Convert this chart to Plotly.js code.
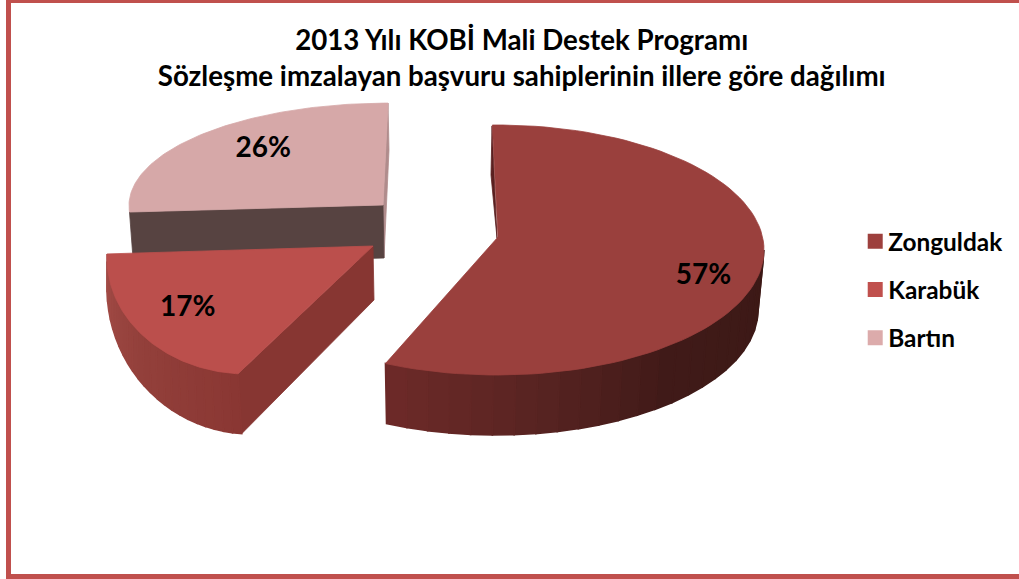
<!DOCTYPE html>
<html>
<head>
<meta charset="utf-8">
<script src="https://cdn.plot.ly/plotly-3.0.1.min.js"></script>
<style>html,body{margin:0;padding:0;background:#fff}#chart{width:1019px;height:579px}</style>
</head>
<body>
<div id="chart"></div>
<script>
var categories = ["Zonguldak", "Karabük", "Bartın"];
var shares = [57, 17, 26];
var faceColors = ["#9a403d", "#bb4f4c", "#d6a8a8"];
var legendColors = ["#9d403d", "#c0504d", "#dcabab"];
var titleLines = ["2013 Yılı KOBİ Mali Destek Programı", "Sözleşme imzalayan başvuru sahiplerinin illere göre dağılımı"];
var FONT = "Lato, Carlito, Calibri, sans-serif";

// Drawing geometry of the tilted, exploded pie (axis units = pixels of the page)
var geom = [
  {top:{cx:497,cy:250,a:267,b:125}, bot:{cx:496,cy:310,a:262,b:125}, apex:[498,237], apexBot:[497,238],
   phi0:-1, stretch:1.0024, wall:[[90,"#3c1916"],[140,"#401a18"],[170,"#572321"],[205,"#6e2a29"]],
   rear:{from:[492,126], to:[491,175], color:"#5a2020"}, label:{f:0.79,dy:7}},
  {top:{cx:247,cy:258,a:140,b:116}, bot:{cx:251,cy:288,a:144,b:146}, apex:[373,246], apexBot:[374,300],
   phi0:183.7, stretch:1.443, wall:[[183,"#8a3733"],[230,"#93403b"],[272,"#a34b47"]],
   side:"#873632", label:{f:0.57,dy:6.5}},
  {top:{cx:388,cy:205.6,a:259,b:102.5}, bot:{cx:389,cy:258,a:256,b:108}, apex:[383,205], apexBot:[384,258],
   phi0:266.4, stretch:1, wall:null, flat:"#574341", strip:"#b08c8c", label:{f:0.661,dy:-9}}
];

function pt(e, deg){ var r = deg*Math.PI/180; return [e.cx + e.a*Math.sin(r), e.cy - e.b*Math.cos(r)]; }
function hex2rgb(h){ return [1,3,5].map(function(i){return parseInt(h.substr(i,2),16);}); }
function shade(stops, deg){
  for (var i=0;i<stops.length-1;i++){
    if (deg<=stops[i+1][0] || i===stops.length-2){
      var t=Math.max(0,Math.min(1,(deg-stops[i][0])/(stops[i+1][0]-stops[i][0])));
      var a=hex2rgb(stops[i][1]), b=hex2rgb(stops[i+1][1]);
      return "rgb("+[0,1,2].map(function(k){return Math.round(a[k]+(b[k]-a[k])*t);}).join(",")+")";
    }
  }
}
function poly(points, color, extra, width){
  var tr = {type:"scatter", mode:"lines", x:points.map(function(p){return p[0];}).concat(points[0][0]),
    y:points.map(function(p){return p[1];}).concat(points[0][1]), fill:"toself", fillcolor:color,
    line:{color:color,width:width||0.8}, hoverinfo:"skip", showlegend:false};
  for (var k in extra) tr[k]=extra[k];
  return tr;
}

var total = shares.reduce(function(a,b){return a+b;},0);
var sliceTraces = {};
var labelX=[], labelY=[], labelText=[];
shares.forEach(function(v,i){
  var g = geom[i], span = v/total*360*g.stretch, start=g.phi0, end=g.phi0+span, tr=[];
  if (g.rear) tr.push(poly([g.rear.from,g.rear.to,g.apexBot], g.rear.color));
  if (g.flat){
    var e0=pt(g.top,start), e1=pt(g.bot,start);
    tr.push(poly([pt(g.top,end),pt(g.bot,end),g.apexBot,g.apex], g.strip));
    tr.push(poly([e0,g.apex,g.apexBot,e1], g.flat));
  }
  if (g.side){
    tr.push(poly([g.apex,g.apexBot,pt(g.bot,start),pt(g.top,start)], g.side));
  }
  if (g.wall){
    var lo=Math.max(start,g.wall[0][0]), hi=Math.min(end,g.wall[g.wall.length-1][0]), n=24, step=(hi-lo)/n;
    for (var j=0;j<n;j++){
      var a=lo+j*step, b=a+step, ring=[], s=3;
      for (var q=0;q<=s;q++) ring.push(pt(g.top,a+(b-a)*q/s));
      for (q=s;q>=0;q--) ring.push(pt(g.bot,a+(b-a)*q/s));
      tr.push(poly(ring, shade(g.wall,(a+b)/2), null, 1.6));
    }
  }
  var face=[g.apex];
  var m=90;
  for (var q2=0;q2<=m;q2++) face.push(pt(g.top,start+span*q2/m));
  tr.push(poly(face, faceColors[i], {name:categories[i]}));
  sliceTraces[i]=tr;
  var mid=pt(g.top,(start+end)/2);
  labelX.push(g.top.cx+(mid[0]-g.top.cx)*g.label.f);
  labelY.push(g.top.cy+(mid[1]-g.top.cy)*g.label.f+g.label.dy);
  labelText.push(v+"%");
});

var traces = [].concat(sliceTraces[2], sliceTraces[1], sliceTraces[0]);
traces.push({type:"scatter", mode:"text", x:labelX, y:labelY, text:labelText, textposition:"middle center",
  textfont:{family:FONT,size:28,color:"#000",weight:"bold"}, hoverinfo:"skip", showlegend:false, cliponaxis:false});
categories.forEach(function(c,i){
  traces.push({type:"scatter", mode:"markers", x:[null], y:[null], name:c, legendgroup:c,
    marker:{symbol:"square",size:15,color:legendColors[i]}, hoverinfo:"skip", showlegend:true});
});

var layout = {
  width:1019, height:579, margin:{l:0,r:0,t:0,b:0}, paper_bgcolor:"#fff", plot_bgcolor:"#fff",
  xaxis:{range:[0,1019],visible:false,fixedrange:true},
  yaxis:{range:[579,0],visible:false,fixedrange:true},
  title:{text:"<b>"+titleLines[0]+"</b><br><b>"+titleLines[1]+"</b>", font:{family:FONT,size:27.7,color:"#000"},
    x:0.512, xanchor:"center", y:0.9145, yanchor:"middle"},
  legend:{x:0.8324, xanchor:"left", y:0.622, yanchor:"top", font:{family:FONT,size:24.4,color:"#000",weight:"bold"},
    bgcolor:"rgba(0,0,0,0)", tracegroupgap:13.5},
  shapes:[
    {type:"rect",xref:"paper",yref:"paper",x0:6/1019,x1:11/1019,y0:0,y1:1,fillcolor:"#c0504d",line:{width:0}},
    {type:"rect",xref:"paper",yref:"paper",x0:6/1019,x1:1,y0:1-3/579,y1:1,fillcolor:"#c0504d",line:{width:0}},
    {type:"rect",xref:"paper",yref:"paper",x0:6/1019,x1:1,y0:0,y1:5/579,fillcolor:"#c0504d",line:{width:0}}
  ]
};
Plotly.newPlot("chart", traces, layout, {displayModeBar:false, staticPlot:true}).then(function(){
  // Reference key swatches sit closer to their labels than Plotly's fixed item width allows
  document.querySelectorAll("#chart .legend .legendpoints").forEach(function(n){ n.setAttribute("transform","translate(7,0)"); });
});
</script>
</body>
</html>
